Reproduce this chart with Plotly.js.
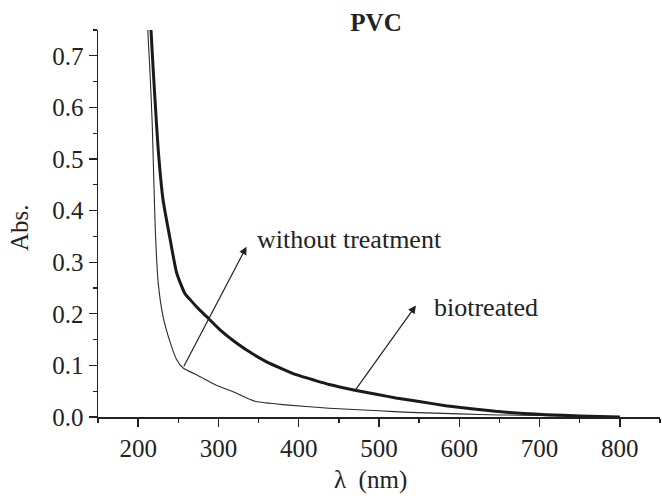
<!DOCTYPE html>
<html>
<head>
<meta charset="utf-8">
<script src="https://cdn.plot.ly/plotly-3.0.1.min.js"></script>
<style>html,body{margin:0;padding:0;background:#fff;}#chart{width:662px;height:496px;}</style>
</head>
<body>
<div id="chart"></div>
<script>
// Biotreated PVC (thick line)
const bioWavelength = [214, 216, 218.5, 221, 225, 231, 240, 248, 258, 265, 275, 285, 302, 322, 345, 360, 380, 397, 420, 438, 470, 500, 521, 550, 583, 615, 645, 680, 708, 750, 800];
const bioAbs        = [0.82, 0.75, 0.68, 0.615, 0.518, 0.421, 0.343, 0.279, 0.240, 0.227, 0.21, 0.195, 0.169, 0.144, 0.12, 0.107, 0.093, 0.082, 0.071, 0.063, 0.052, 0.043, 0.037, 0.030, 0.022, 0.016, 0.011, 0.007, 0.0045, 0.002, 0.0];
// PVC without treatment (thin line)
const rawWavelength = [210, 212, 215, 217.5, 219.5, 221.5, 225, 231, 240, 248, 256, 275, 298, 320, 335, 347, 380, 438, 500, 538, 600, 650, 700, 750, 800];
const rawAbs        = [0.82, 0.75, 0.66, 0.57, 0.46, 0.357, 0.26, 0.195, 0.144, 0.111, 0.095, 0.08, 0.061, 0.048, 0.037, 0.030, 0.024, 0.017, 0.012, 0.009, 0.006, 0.004, 0.003, 0.001, 0.0];
const xTicks = [200, 300, 400, 500, 600, 700, 800];
const yTicks = [0.0, 0.1, 0.2, 0.3, 0.4, 0.5, 0.6, 0.7];
const yTickText = ['0.0', '0.1', '0.2', '0.3', '0.4', '0.5', '0.6', '0.7'];

const font = 'Liberation Serif, Times New Roman, serif';
const ink = '#222';

const traces = [
  {x: rawWavelength, y: rawAbs, mode: 'lines', line: {color: '#2a2a2a', width: 1.1, shape: 'spline', smoothing: 0.5}, name: 'without treatment'},
  {x: bioWavelength, y: bioAbs, mode: 'lines', line: {color: '#1a1a1a', width: 3, shape: 'spline', smoothing: 0.5}, name: 'biotreated'}
];

const layout = {
  width: 662, height: 496,
  margin: {l: 98, r: 2, t: 30, b: 79},
  paper_bgcolor: '#fff', plot_bgcolor: '#fff',
  showlegend: false,
  font: {family: font, size: 25, color: ink},
  title: {text: '<b>PVC</b>', font: {family: font, size: 25, color: ink}, x: 0.568, xanchor: 'center', y: 1 - 22/496, yanchor: 'middle', yref: 'container'},
  xaxis: {
    range: [150, 850], tickvals: xTicks, ticktext: xTicks.map(String),
    showline: true, linecolor: ink, linewidth: 1.5, mirror: false, zeroline: false, showgrid: false,
    ticks: 'outside', ticklen: 8, tickwidth: 1.3, tickcolor: ink,
    minor: {dtick: 50, tick0: 150, ticks: 'outside', ticklen: 4, tickwidth: 1.3, tickcolor: ink, showgrid: false},
    tickfont: {family: font, size: 25, color: ink}
  },
  yaxis: {
    range: [0, 0.75], tickvals: yTicks, ticktext: yTickText,
    showline: true, linecolor: ink, linewidth: 1.5, mirror: false, zeroline: false, showgrid: false,
    ticks: 'outside', ticklen: 8, tickwidth: 1.3, tickcolor: ink,
    minor: {dtick: 0.05, tick0: 0, ticks: 'outside', ticklen: 4, tickwidth: 1.3, tickcolor: ink, showgrid: false},
    tickfont: {family: font, size: 25, color: ink}
  },
  annotations: [
    {x: 0.484, y: -0.163, xref: 'paper', yref: 'paper', text: 'λ  (nm)', showarrow: false, xanchor: 'center', yanchor: 'middle', font: {family: font, size: 25, color: ink}},
    {x: -0.1388, y: 0.491, xref: 'paper', yref: 'paper', text: 'Abs.', textangle: -90, showarrow: false, xanchor: 'center', yanchor: 'middle', font: {family: font, size: 25, color: ink}},
    {x: 335, y: 0.33, ax: 256, ay: 0.0955, xref: 'x', yref: 'y', axref: 'x', ayref: 'y', text: '', showarrow: true, arrowhead: 2, arrowsize: 1.3, arrowwidth: 1.2, arrowcolor: ink},
    {x: 546, y: 0.216, ax: 470, ay: 0.051, xref: 'x', yref: 'y', axref: 'x', ayref: 'y', text: '', showarrow: true, arrowhead: 2, arrowsize: 1.3, arrowwidth: 1.2, arrowcolor: ink},
    {x: 346, y: 0.344, xref: 'x', yref: 'y', text: 'without treatment', showarrow: false, xanchor: 'left', yanchor: 'middle', font: {family: font, size: 26, color: ink}},
    {x: 566, y: 0.212, xref: 'x', yref: 'y', text: 'biotreated', showarrow: false, xanchor: 'left', yanchor: 'middle', font: {family: font, size: 26, color: ink}}
  ]
};

Plotly.newPlot('chart', traces, layout, {displayModeBar: false, staticPlot: true});
</script>
</body>
</html>
